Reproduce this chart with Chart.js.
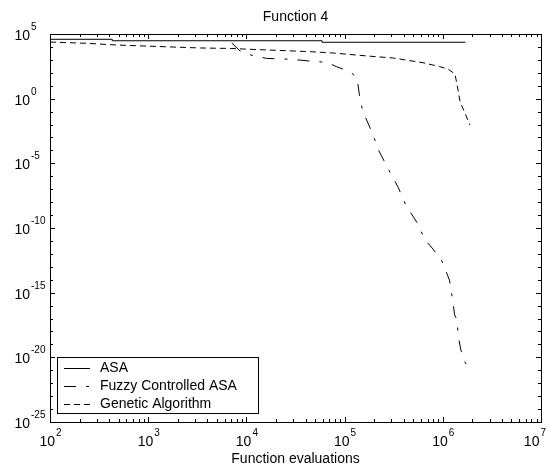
<!DOCTYPE html>
<html>
<head>
<meta charset="utf-8">
<title>Function 4</title>
<script src="https://cdn.jsdelivr.net/npm/chart.js@4.4.0/dist/chart.umd.min.js"></script>
<style>
  html, body { margin: 0; padding: 0; background: #fff; }
</style>
</head>
<body>
<canvas id="myChart" width="550" height="467"></canvas>
<script>
// best function value found vs. number of evaluations
const asaEvals = [100, 430, 5.9e4, 1.5e5, 1.7e6];
const asaValues = [4.1e4, 3.9e4, 3.0e4, 2.3e4, 2.3e4];

const fuzzyEvals = [7100, 8600, 1.1e4, 1.6e4, 2.9e4, 5e4, 6.6e4, 8.3e4, 1.14e5, 1.34e5,
    1.43e5, 1.54e5, 1.8e5, 2e5, 2.24e5, 2.9e5, 3.5e5, 4.2e5, 5.5e5, 6.6e5,
    7.8e5, 9.8e5, 1.17e6, 1.26e6, 1.32e6, 1.4e6, 1.43e6, 1.53e6, 1.68e6, 1.85e6];
const fuzzyValues = [2e4, 4.9e3, 2.4e3, 1.3e3, 1.1e3, 740, 650, 295, 120, 40,
    1.1, 0.093, 6.5e-3, 9e-4, 9e-5, 2e-6, 1.5e-7, 6e-9, 2.4e-10, 1.2e-11,
    2.8e-12, 2.8e-13, 9.3e-15, 2.7e-16, 1.9e-17, 7.6e-18, 5e-19, 3.6e-20, 4.3e-21, 1.2e-21];

const gaEvals = [100, 240, 480, 3400, 7100, 9300, 4.5e4, 7.6e4, 1.7e5, 3.1e5,
    6.3e5, 9.3e5, 1.13e6, 1.33e6, 1.4e6, 1.5e6, 1.68e6, 1.89e6];
const gaValues = [2.4e4, 1.9e4, 1.4e4, 8.3e3, 7.6e3, 6.9e3, 4.3e3, 3.4e3, 2.0e3, 1.4e3,
    600, 300, 195, 80, 11, 0.58, 0.078, 0.009];

const seriesLabels = ["ASA", "Fuzzy Controlled ASA", "Genetic Algorithm"];
const xTickExponents = [2, 3, 4, 5, 6, 7];
const yTickExponents = [5, 0, -5, -10, -15, -20, -25];

const FONT = '"Liberation Sans", Arial, sans-serif';

const toPoints = (xs, ys) => xs.map((x, i) => ({x: x, y: ys[i]}));

// "10" with a raised exponent; centred on x, or with the digits ending at x
function powerLabel(ctx, exp, x, baseline, align) {
    ctx.font = "14px " + FONT;
    const wBase = ctx.measureText("10").width;
    ctx.font = "10px " + FONT;
    const wExp = ctx.measureText(String(exp)).width;
    let left;
    if (align === "center") left = Math.min(x - (wBase + wExp) / 2, 545 - wBase - wExp);
    else left = x - wBase;
    ctx.textAlign = "left";
    ctx.textBaseline = "alphabetic";
    ctx.font = "14px " + FONT;
    ctx.fillText("10", left, baseline);
    ctx.font = "10px " + FONT;
    ctx.fillText(String(exp), left + wBase + 1, baseline - 10);
}

const matlabAxes = {
    id: "matlabAxes",
    afterDraw(chart) {
        const ctx = chart.ctx;
        const a = chart.chartArea;
        const xs = chart.scales.x;
        const ys = chart.scales.y;
        ctx.save();
        ctx.strokeStyle = "#000";
        ctx.fillStyle = "#000";
        ctx.lineWidth = 1;

        // box
        ctx.strokeRect(Math.round(a.left) + 0.5, Math.round(a.top) + 0.5,
            Math.round(a.right - a.left), Math.round(a.bottom - a.top));

        // x ticks, top and bottom, pointing inwards
        ctx.beginPath();
        for (let e = 2; e <= 7; e++) {
            for (let m = 1; m <= 9; m++) {
                if (e === 7 && m > 1) break;
                const px = Math.round(xs.getPixelForValue(m * Math.pow(10, e))) + 0.5;
                const len = m === 1 ? 5 : 3;
                ctx.moveTo(px, a.bottom);
                ctx.lineTo(px, a.bottom - len);
                ctx.moveTo(px, a.top);
                ctx.lineTo(px, a.top + len);
            }
        }
        // y ticks, every decade
        for (let e = -25; e <= 5; e++) {
            const py = Math.round(ys.getPixelForValue(Math.pow(10, e))) + 0.5;
            const len = e % 5 === 0 ? 5 : 3;
            ctx.moveTo(a.left, py);
            ctx.lineTo(a.left + len, py);
            ctx.moveTo(a.right, py);
            ctx.lineTo(a.right - len, py);
        }
        ctx.stroke();

        xTickExponents.forEach(e => {
            powerLabel(ctx, e, xs.getPixelForValue(Math.pow(10, e)), a.bottom + 24, "center");
        });
        yTickExponents.forEach(e => {
            powerLabel(ctx, e, a.left - 20, ys.getPixelForValue(Math.pow(10, e)) + 6, "right");
        });

        // title and axis label
        ctx.textAlign = "center";
        ctx.font = "14px " + FONT;
        ctx.fillText("Function 4", (a.left + a.right) / 2, 21);
        ctx.fillText("Function evaluations", (a.left + a.right) / 2, 463);

        // legend box
        const lx = 57, ly = 357, lw = 201, lh = 56;
        ctx.fillStyle = "#fff";
        ctx.fillRect(lx, ly, lw, lh);
        ctx.strokeRect(lx + 0.5, ly + 0.5, lw, lh);
        ctx.textAlign = "left";
        ctx.textBaseline = "middle";
        chart.data.datasets.forEach((ds, i) => {
            const rowY = ly + 11.5 + i * 18;
            ctx.setLineDash(ds.borderDash || []);
            ctx.beginPath();
            ctx.moveTo(64, rowY);
            ctx.lineTo(90, rowY);
            ctx.stroke();
            ctx.setLineDash([]);
            ctx.fillStyle = "#000";
            ctx.fillText(ds.label, 100, rowY);
        });
        ctx.restore();
    }
};

const lineStyle = {
    borderColor: "#000",
    borderWidth: 1,
    pointRadius: 0,
    tension: 0,
    fill: false
};

const config = {
    type: "line",
    data: {
        datasets: [
            Object.assign({}, lineStyle, {label: seriesLabels[0], data: toPoints(asaEvals, asaValues), stepped: "after"}),
            Object.assign({}, lineStyle, {label: seriesLabels[1], data: toPoints(fuzzyEvals, fuzzyValues), borderDash: [12, 10, 3, 10]}),
            Object.assign({}, lineStyle, {label: seriesLabels[2], data: toPoints(gaEvals, gaValues), borderDash: [6, 4]})
        ]
    },
    options: {
        responsive: false,
        animation: false,
        devicePixelRatio: 1,
        layout: {
            padding: {left: 50, top: 34, right: 9, bottom: 45}
        },
        plugins: {
            legend: {display: false},
            title: {display: false},
            tooltip: {enabled: false}
        },
        scales: {
            x: {
                type: "logarithmic",
                min: 100,
                max: 1e7,
                grid: {display: false},
                border: {display: false},
                ticks: {display: false},
                afterFit: s => { s.height = 0; }
            },
            y: {
                type: "logarithmic",
                min: 1e-25,
                max: 1e5,
                grid: {display: false},
                border: {display: false},
                ticks: {display: false},
                afterFit: s => { s.width = 0; }
            }
        }
    },
    plugins: [matlabAxes]
};

const myChart = new Chart(document.getElementById("myChart"), config);
</script>
</body>
</html>
